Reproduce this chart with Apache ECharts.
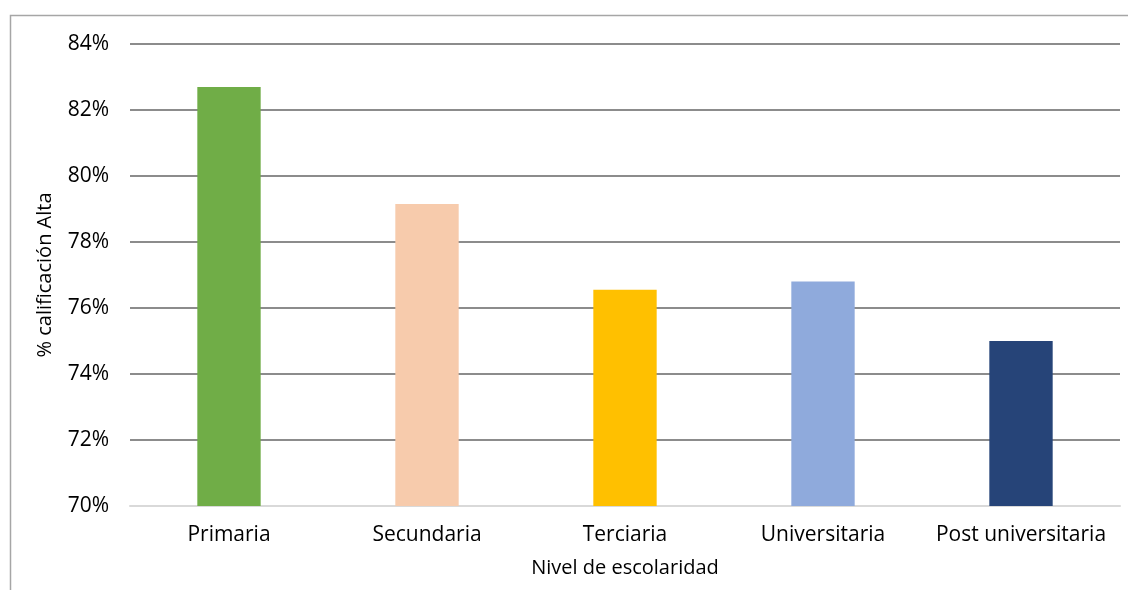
<!DOCTYPE html>
<html>
<head>
<meta charset="utf-8">
<style>
  html, body { margin: 0; padding: 0; background: #fff; }
  #chart { width: 1128px; height: 590px; }
</style>
<script src="https://cdn.jsdelivr.net/npm/echarts@6/dist/echarts.min.js"></script>
</head>
<body>
<div id="chart"></div>
<script>
// Share of "Alta" rating by level of schooling
const categories = ['Primaria', 'Secundaria', 'Terciaria', 'Universitaria', 'Post universitaria'];
const values = [82.7, 79.15, 76.55, 76.8, 75.0];
const barColors = ['#70AD47', '#F7CBAC', '#FFC000', '#8FAADC', '#264478'];
const yTicks = [70, 72, 74, 76, 78, 80, 82, 84];

const FONT = '"Open Sans", "Noto Sans", sans-serif';

const chart = echarts.init(document.getElementById('chart'), null, { renderer: 'canvas' });

chart.setOption({
  animation: false,
  backgroundColor: '#ffffff',
  graphic: [{
    type: 'rect',
    shape: { x: 10.5, y: 15.5, width: 1130, height: 600 },
    style: { fill: 'none', stroke: '#a6a6a6', lineWidth: 1.5 },
    silent: true,
    z: 0
  }],
  grid: { left: 130, right: 8, top: 44, bottom: 84 },
  xAxis: {
    type: 'category',
    data: categories,
    name: 'Nivel de escolaridad',
    nameLocation: 'middle',
    nameGap: 52,
    nameTextStyle: { fontFamily: FONT, fontSize: 20, color: '#000' },
    axisLine: { lineStyle: { color: '#d9d9d9', width: 2 } },
    axisTick: { show: false },
    axisLabel: { interval: 0, fontFamily: FONT, fontSize: 21, color: '#000', margin: 19 }
  },
  yAxis: {
    type: 'value',
    min: yTicks[0],
    max: yTicks[yTicks.length - 1],
    interval: 2,
    name: '% calificación Alta',
    nameLocation: 'middle',
    nameGap: 75,
    nameTextStyle: { fontFamily: FONT, fontSize: 20, color: '#000' },
    axisLine: { show: false },
    axisTick: { show: false },
    axisLabel: {
      fontFamily: FONT, fontSize: 21, color: '#000', margin: 21,
      formatter: v => v + '%'
    },
    splitLine: { lineStyle: { color: '#8c8c8c', width: 2 } }
  },
  series: [{
    type: 'bar',
    barWidth: '32%',
    data: values.map((v, i) => ({ value: v, itemStyle: { color: barColors[i] } })),
    z: 3
  }]
});
</script>
</body>
</html>
